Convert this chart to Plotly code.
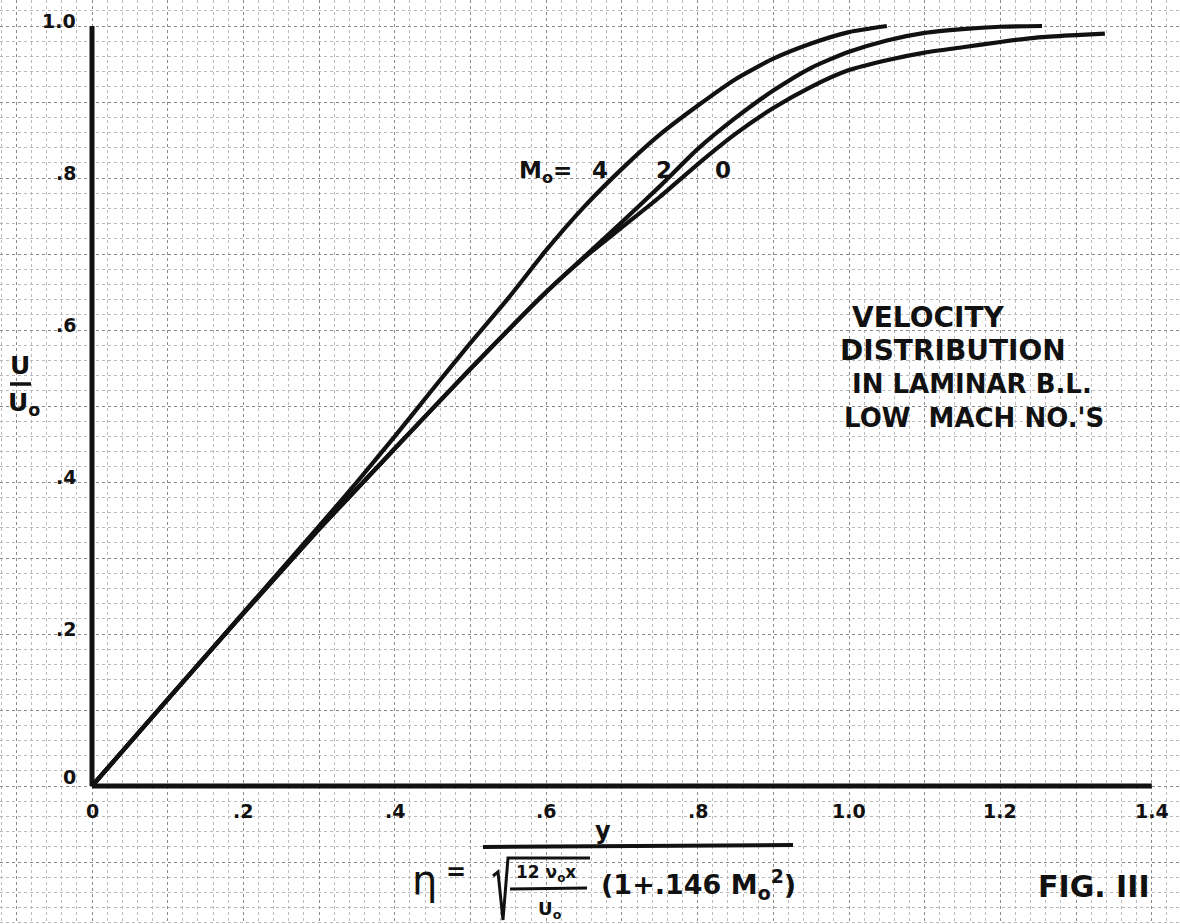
import plotly.graph_objects as go

# ---------------- data ----------------
eta_m4 = [0, 0.1, 0.2, 0.3, 0.35, 0.4, 0.45, 0.5, 0.55, 0.6, 0.65, 0.7, 0.75, 0.8, 0.85, 0.9, 0.95, 1.0, 1.05]
u_m4 = [0, 0.114, 0.228, 0.342, 0.40, 0.46, 0.522, 0.583, 0.642, 0.705, 0.762, 0.812, 0.857, 0.895, 0.930, 0.957, 0.977, 0.992, 1.0]

eta_m2 = [0, 0.1, 0.2, 0.3, 0.4, 0.5, 0.6, 0.65, 0.7, 0.75, 0.8, 0.85, 0.9, 0.95, 1.0, 1.05, 1.1, 1.15, 1.2, 1.255]
u_m2 = [0, 0.114, 0.227, 0.338, 0.444, 0.549, 0.650, 0.696, 0.742, 0.789, 0.838, 0.879, 0.915, 0.945, 0.966, 0.981, 0.991, 0.996, 0.999, 1.0]

eta_m0 = [0, 0.1, 0.2, 0.3, 0.4, 0.5, 0.6, 0.65, 0.7, 0.75, 0.8, 0.85, 0.9, 0.95, 1.0, 1.05, 1.1, 1.15, 1.2, 1.25, 1.3, 1.338]
u_m0 = [0, 0.114, 0.227, 0.338, 0.444, 0.549, 0.650, 0.695, 0.735, 0.775, 0.818, 0.858, 0.892, 0.920, 0.942, 0.955, 0.965, 0.972, 0.979, 0.985, 0.988, 0.990]

x_tick_vals = [0, 0.2, 0.4, 0.6, 0.8, 1.0, 1.2, 1.4]
x_tick_text = ["0", ".2", ".4", ".6", ".8", "1.0", "1.2", "1.4"]
y_tick_vals = [0, 0.2, 0.4, 0.6, 0.8, 1.0]
y_tick_text = ["0", ".2", ".4", ".6", ".8", "1.0"]

mach_labels = ["4", "2", "0"]

# ---------------- layout geometry ----------------
W, H = 1180, 924
X0_PX, X_SCALE = 92, 757.0   # eta = 0 at 92 px
Y0_PX, Y_SCALE = 786, 760.0  # U/U0 = 0 at 786 px
x_range = [-X0_PX / X_SCALE, (W - X0_PX) / X_SCALE]
y_range = [-(H - Y0_PX) / Y_SCALE, Y0_PX / Y_SCALE]


def P(px, py):
    return px / W, 1 - py / H


INK = "#111111"
FONT = "DejaVu Sans"


def font(size, bold=True):
    d = dict(family=FONT, size=size, color=INK)
    if bold:
        d["weight"] = "bold"
    return d


def label(px, py, text, size, bold=True, xanchor="center"):
    x, y = P(px, py)
    return dict(x=x, y=y, xref="paper", yref="paper", text=text, showarrow=False,
                xanchor=xanchor, yanchor="middle", font=font(size, bold))


def pline(p0, p1, width):
    a, b = P(*p0)
    c, d = P(*p1)
    return dict(type="line", xref="paper", yref="paper", x0=a, y0=b, x1=c, y1=d,
                line=dict(color=INK, width=width))


fig = go.Figure()
for xs, ys in [(eta_m4, u_m4), (eta_m2, u_m2), (eta_m0, u_m0)]:
    fig.add_trace(go.Scatter(x=xs, y=ys, mode="lines",
                             line=dict(color=INK, width=4.2, shape="spline", smoothing=0.6),
                             hoverinfo="skip", showlegend=False))

shapes = [
    dict(type="line", xref="x", yref="y", x0=0, y0=0, x1=1.4, y1=0, line=dict(color=INK, width=5)),
    dict(type="line", xref="x", yref="y", x0=0, y0=0, x1=0, y1=1.0, line=dict(color=INK, width=5)),
]

ann = []
for v, t in zip(x_tick_vals, x_tick_text):
    ann.append(dict(x=v, y=0, xref="x", yref="y", text=t, showarrow=False,
                    xanchor="center", yanchor="middle", yshift=-25, font=font(19)))
for v, t in zip(y_tick_vals, y_tick_text):
    ann.append(dict(x=0, y=v, xref="x", yref="y", text=t, showarrow=False,
                    xanchor="right", yanchor="middle", xshift=-14,
                    yshift=9 if v == 0 else 5, font=font(19)))

# M0 = 4 2 0
ann.append(label(545, 172, "M<sub>o</sub>=", 23))
for px, t in zip([600, 664, 723], mach_labels):
    ann.append(label(px, 170, t, 23))

# title block
for px, py, t, s in [(850, 318, "VELOCITY", 28), (838, 350, "DISTRIBUTION", 28),
                     (850, 384, "IN LAMINAR B.L.", 26), (842, 418, "LOW  MACH NO.'S", 26)]:
    ann.append(label(px, py, t, s, xanchor="left"))

# y-axis label U / U0
ann.append(label(20, 366, "U", 25))
shapes.append(pline((10, 384), (31, 384), 3.5))
ann.append(label(24, 404, "U<sub>o</sub>", 25))

# formula eta = y / ( sqrt(12 v0 x / U0) (1 + .146 M0^2) )
ann.append(label(424, 880, "η", 40, bold=False))
ann.append(label(456, 872, "=", 24))
ann.append(label(603, 831, "y", 24))
shapes.append(pline((483, 847), (793, 845), 4))
ann.append(label(546, 873, "12 ν<sub>o</sub>x", 17))
shapes.append(pline((510, 889), (587, 888), 3))
ann.append(label(550, 910, "U<sub>o</sub>", 18))
pts = [(493, 876), (498, 872), (503, 920), (508, 858), (590, 858)]
path = "M " + " L ".join(f"{P(px, py)[0]:.5f},{P(px, py)[1]:.5f}" for px, py in pts)
shapes.append(dict(type="path", xref="paper", yref="paper", path=path,
                   line=dict(color=INK, width=3)))
ann.append(label(698, 884, "(1+.146 M<sub>o</sub><sup>2</sup>)", 27))

# FIG. III
ann.append(label(1094, 886, "FIG. III", 30))

axis_common = dict(showticklabels=False, ticks="", zeroline=False, showline=False,
                   showgrid=True, gridcolor="#8a8a8a", griddash="dot", gridwidth=1,
                   tick0=0, dtick=0.1,
                   minor=dict(dtick=0.02, showgrid=True, gridcolor="#bababa", griddash="dot", gridwidth=1))

fig.update_layout(
    width=W, height=H, margin=dict(l=0, r=0, t=0, b=0),
    paper_bgcolor="white", plot_bgcolor="white", showlegend=False,
    xaxis=dict(range=x_range, **axis_common),
    yaxis=dict(range=y_range, **axis_common),
    shapes=shapes, annotations=ann,
)

fig.write_html("out.html")
